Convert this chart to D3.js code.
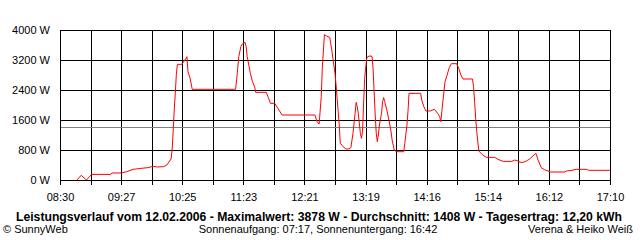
<!DOCTYPE html>
<html>
<head>
<meta charset="utf-8">
<script src="https://cdn.jsdelivr.net/npm/d3@7"></script>
<style>
  body { margin: 0; background: #fff; }
  svg { display: block; font-family: "Liberation Sans", Arial, sans-serif; }
</style>
</head>
<body>
<div id="plot"></div>
<script>
// times of day and power readings (W)
const times = ["08:46","08:50","08:55","09:00","09:18","09:19","09:28","09:33","09:39","09:47",
  "09:53","09:58","10:02","10:08","10:11","10:15","10:16","10:17","10:18","10:19","10:20","10:21",
  "10:25","10:27","10:29","10:30","10:31","10:33","10:35","11:16","11:17","11:18","11:19","11:21",
  "11:22","11:25","11:26","11:27","11:30","11:32","11:34","11:35","11:45","11:47","11:49","11:53",
  "11:56","12:00","12:31","12:33","12:35","12:37","12:38","12:40","12:42","12:45","12:47","12:48",
  "12:50","12:51","12:52","12:53","12:54","12:55","12:57","13:00","13:03","13:05","13:07","13:09",
  "13:10","13:11","13:12","13:14","13:15","13:16","13:17","13:18","13:20","13:21","13:23","13:25",
  "13:26","13:27","13:28","13:29","13:30","13:31","13:32","13:34","13:35","13:36","13:37","13:39",
  "13:41","13:43","13:44","13:46","13:48","13:55","13:56","13:58","13:59","14:00","14:11","14:12",
  "14:14","14:16","14:20","14:24","14:27","14:29","14:30","14:31","14:33","14:34","14:36","14:38",
  "14:40","14:45","14:47","14:49","14:51","15:00","15:01","15:02","15:03","15:04","15:05","15:06",
  "15:09","15:13","15:21","15:24","15:29","15:37","15:40","15:43","15:45","15:48","15:51","15:54",
  "15:57","16:00","16:02","16:05","16:08","16:14","16:27","16:29","16:34","16:38","16:48","16:50","17:10"];
const watts = [0,125,0,150,150,187,187,222,284,311,
  329,364,347,355,400,560,800,1307,1867,2311,2818,3084,
  3084,3155,3244,3289,2889,2711,2418,2418,2667,2978,3289,3556,
  3618,3671,3556,3289,2844,2622,2489,2338,2338,2196,2044,2044,
  1911,1733,1733,1556,1493,2222,2978,3878,3840,3805,3467,3244,
  2844,2533,2178,1822,1467,978,916,827,827,862,1244,1778,
  2071,1956,1778,1244,1111,1289,2000,2711,3244,3289,3307,3298,
  2978,2356,1733,1244,1022,1200,1467,1778,2089,2196,2089,1867,
  1600,1289,1067,800,755,755,978,1467,1822,2311,2311,2133,
  1956,1840,1840,1884,1778,1689,1556,1822,2356,2622,2800,2996,
  3102,3102,2978,2800,2693,2693,2489,2089,1644,1289,1022,773,
  684,604,604,551,497,497,533,507,471,471,507,560,
  640,711,533,329,276,213,213,240,258,284,284,258,258];
const average = 1408;
const yTicks = [0, 800, 1600, 2400, 3200, 4000];
const xTickLabels = ["08:30","09:27","10:25","11:23","12:21","13:19","14:16","15:14","16:12","17:10"];
const titleText = "Leistungsverlauf vom 12.02.2006 - Maximalwert: 3878 W - Durchschnitt: 1408 W - Tagesertrag: 12,20 kWh";
const footLeft = "\u00A9 SunnyWeb";
const footMid = "Sonnenaufgang: 07:17, Sonnenuntergang: 16:42";
const footRight = "Verena & Heiko Wei\u00DF";

const W = 640, H = 240;
const plot = { left: 60, right: 610, top: 30, bottom: 180 };

const toMin = s => { const [h, m] = s.split(":").map(Number); return h * 60 + m; };

const x = d3.scaleLinear().domain([toMin("08:30"), toMin("17:10")]).range([plot.left, plot.right]);
const y = d3.scaleLinear().domain([0, 4000]).range([plot.bottom, plot.top]);
const px = v => Math.round(v) + 0.5;

const svg = d3.select("#plot").append("svg")
    .attr("width", W)
    .attr("height", H);

// vertical grid: 18 intervals, label every second line
const nGrid = 18;
const gridX = d3.range(nGrid + 1).map(i => plot.left + i * (plot.right - plot.left) / nGrid);

svg.append("g")
  .selectAll("line")
  .data(gridX)
  .enter().append("line")
    .attr("x1", d => px(d)).attr("x2", d => px(d))
    .attr("y1", plot.top).attr("y2", plot.bottom + 5)
    .attr("stroke", "#000")
    .attr("shape-rendering", "crispEdges");

svg.append("g")
  .selectAll("line")
  .data(yTicks)
  .enter().append("line")
    .attr("x1", plot.left).attr("x2", plot.right + 1)
    .attr("y1", d => px(y(d))).attr("y2", d => px(y(d)))
    .attr("stroke", "#000")
    .attr("shape-rendering", "crispEdges");

// y labels
svg.append("g")
  .selectAll("text")
  .data(yTicks)
  .enter().append("text")
    .attr("x", 50)
    .attr("y", d => y(d) + 4)
    .attr("text-anchor", "end")
    .attr("font-size", "11px")
    .text(d => d + " W");

// x labels
svg.append("g")
  .selectAll("text")
  .data(xTickLabels)
  .enter().append("text")
    .attr("x", (d, i) => gridX[i * 2] + 0.5)
    .attr("y", 201)
    .attr("text-anchor", "middle")
    .attr("font-size", "11px")
    .text(d => d);

// average line
svg.append("line")
    .attr("x1", plot.left + 1).attr("x2", plot.right)
    .attr("y1", px(y(average))).attr("y2", px(y(average)))
    .attr("stroke", "#808080")
    .attr("shape-rendering", "crispEdges");

// power line
const data = times.map((t, i) => ({ t: toMin(t), w: watts[i] }));
svg.append("path")
    .datum(data)
    .attr("fill", "none")
    .attr("stroke", "#ff0000")
    .attr("stroke-width", 1)
    .attr("d", d3.line().x(d => x(d.t)).y(d => y(d.w)));

// title and footer
svg.append("text")
    .attr("x", 319).attr("y", 221)
    .attr("text-anchor", "middle")
    .attr("font-size", "12px")
    .attr("font-weight", "bold")
    .attr("textLength", 606)
    .attr("lengthAdjust", "spacingAndGlyphs")
    .text(titleText);

svg.append("text")
    .attr("x", 3).attr("y", 233)
    .attr("font-size", "11px")
    .text(footLeft);

svg.append("text")
    .attr("x", 318).attr("y", 233)
    .attr("text-anchor", "middle")
    .attr("font-size", "11px")
    .text(footMid);

svg.append("text")
    .attr("x", 633).attr("y", 233)
    .attr("text-anchor", "end")
    .attr("font-size", "11px")
    .text(footRight);
</script>
</body>
</html>
